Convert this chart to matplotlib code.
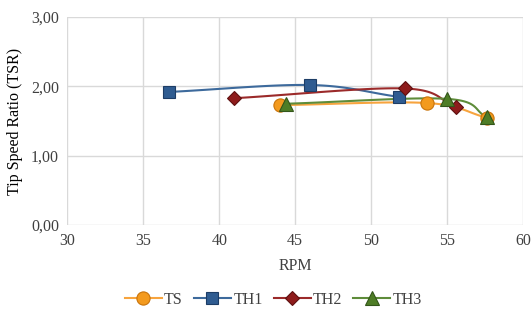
import numpy as np
import matplotlib
matplotlib.use("Agg")
import matplotlib.pyplot as plt
from matplotlib.ticker import FuncFormatter

# ---- data ----
series_names = ["TS", "TH1", "TH2", "TH3"]
ts_rpm = [44.0, 53.7, 57.6]
ts_tsr = [1.73, 1.76, 1.55]
th1_rpm = [36.7, 46.0, 51.8]
th1_tsr = [1.92, 2.02, 1.85]
th2_rpm = [41.0, 52.2, 55.6]
th2_tsr = [1.83, 1.97, 1.70]
th3_rpm = [44.4, 55.0, 57.6]
th3_tsr = [1.75, 1.82, 1.56]
x_ticks = [30, 35, 40, 45, 50, 55, 60]
y_ticks = [0, 1, 2, 3]

plt.rcParams['font.family'] = ['Liberation Serif', 'DejaVu Serif']


def smooth(x, y, n=40):
    """Catmull-Rom style smoothing (like Excel 'smoothed line') through the points."""
    x = np.asarray(x, float)
    y = np.asarray(y, float)
    px = np.concatenate([[2 * x[0] - x[1]], x, [2 * x[-1] - x[-2]]])
    py = np.concatenate([[2 * y[0] - y[1]], y, [2 * y[-1] - y[-2]]])
    xs, ys = [], []
    for i in range(1, len(px) - 2):
        t = np.linspace(0, 1, n)
        p0x, p1x, p2x, p3x = px[i - 1:i + 3]
        p0y, p1y, p2y, p3y = py[i - 1:i + 3]
        def cr(p0, p1, p2, p3):
            return 0.5 * ((2 * p1) + (-p0 + p2) * t + (2 * p0 - 5 * p1 + 4 * p2 - p3) * t ** 2
                          + (-p0 + 3 * p1 - 3 * p2 + p3) * t ** 3)
        xs.append(cr(p0x, p1x, p2x, p3x))
        ys.append(cr(p0y, p1y, p2y, p3y))
    return np.concatenate(xs), np.concatenate(ys)


fig = plt.figure(figsize=(5.31, 3.22), dpi=100)
ax = fig.add_axes([0.127, 0.301, 0.858, 0.646])

styles = [
    (ts_rpm, ts_tsr, "#F7A43E", "#F39A1E", "#C9730A", "o", 9.5),
    (th1_rpm, th1_tsr, "#3D6A9C", "#2F5C91", "#1D3D66", "s", 9),
    (th2_rpm, th2_tsr, "#9B2A2A", "#8E1C1C", "#5E1010", "D", 7.5),
    (th3_rpm, th3_tsr, "#5E8C3A", "#4E7D26", "#33561A", "^", 9.5),
]

handles = []
for (xv, yv, lc, mc, ec, mk, ms), name in zip(styles, series_names):
    sx, sy = smooth(xv, yv)
    ax.plot(sx, sy, color=lc, lw=1.5, zorder=3)
    ax.plot(xv, yv, ls="none", marker=mk, ms=ms, mfc=mc, mec=ec, mew=0.8, zorder=4)
    h, = ax.plot([], [], color=lc, lw=1.5, marker=mk, ms=ms, mfc=mc, mec=ec, mew=0.8)
    handles.append(h)

ax.set_xlim(30, 60)
ax.set_ylim(0, 3)
ax.set_xticks(x_ticks)
ax.set_yticks(y_ticks)
ax.yaxis.set_major_formatter(FuncFormatter(lambda v, p: f"{v:.2f}".replace(".", ",")))
ax.grid(True, color="#D9D9D9", lw=1.0)
ax.set_axisbelow(True)
for s in ax.spines.values():
    s.set_visible(False)
ax.tick_params(length=0, labelsize=11.5, colors="#404040", pad=6)
ax.set_xlabel("RPM", fontsize=11.5, color="#404040", labelpad=6)
ax.set_ylabel("Tip Speed Ratio (TSR)", fontsize=11.5, color="#000000", labelpad=6)

fig.legend(handles, series_names, loc="lower center", bbox_to_anchor=(0.515, 0.0),
           ncol=4, frameon=False, fontsize=11.5, handlelength=2.3, columnspacing=0.7,
           handletextpad=0.15, labelcolor="#404040")

fig.savefig("out.png", dpi=100)
